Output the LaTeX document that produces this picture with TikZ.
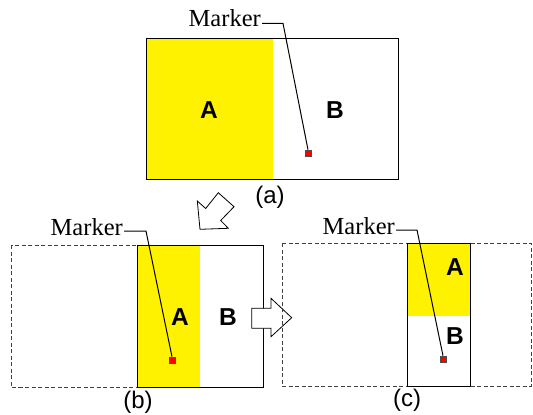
\documentclass[tikz,border=0pt]{standalone}
\usepackage{fontspec}
\setmainfont{Liberation Serif}
\setsansfont{Liberation Sans}
\begin{document}
\begin{tikzpicture}[x=1pt,y=-1pt,
  frame/.style={draw=black, line width=1pt},
  dframe/.style={draw=black!75, line width=1pt, dash pattern=on 4pt off 2.5pt},
  yfill/.style={fill=yellow},
  part/.style={font=\sffamily\bfseries\fontsize{24.5}{24.5}\selectfont, inner sep=0pt},
  captext/.style={font=\sffamily\fontsize{24}{24}\selectfont, inner sep=0pt},
  mlabel/.style={font=\fontsize{24.5}{24.5}\selectfont, inner sep=1pt},
  markbox/.style={draw=black!70, fill=red, line width=0.6pt, minimum size=6pt, inner sep=0pt, rectangle},
  lead/.style={draw=black, line width=1pt},
  blockarrow/.style={draw=black, fill=white, line width=0.8pt, line join=miter}
]
\useasboundingbox (0,0) rectangle (533,415);

% ---- (a)
\fill[yfill] (146,38) rectangle (273,179);
\draw[frame] (146,38) rectangle (398,179);
\node[part] (aA) at (209,110) {A};
\node[part] (aB) at (335,110) {B};
\node[captext] (capa) at (270,197) {(a)};
\node[markbox] (mqa) at (308,153) {};
\node[mlabel, anchor=base east] (mka) at (262,27) {Marker};
\coordinate (ka) at (283,23.3);
\draw[lead] (mka.east |- ka) -- (ka) -- (mqa.north);

% ---- arrow (a) -> (b)
\draw[blockarrow] (197.3,201) -- (205.7,208.5) -- (218.3,192.7) -- (234,206.7) -- (220.7,220.5) -- (228.3,228.3) -- (200,229.3) -- cycle;

% ---- (b)
\draw[dframe] (11,245) rectangle (263,387);
\fill[yfill] (137,245) rectangle (200,387);
\draw[frame] (137,245) rectangle (263,387);
\node[part] (bA) at (180,317) {A};
\node[part] (bB) at (228,317) {B};
\node[captext] (capb) at (138,402.5) {(b)};
\node[markbox] (mqb) at (172,360) {};
\node[mlabel, anchor=base east] (mkb) at (124,235) {Marker};
\coordinate (kb) at (146,231);
\draw[lead] (mkb.east |- kb) -- (kb) -- (mqb.north);

% ---- arrow (b) -> (c)
\draw[blockarrow] (251.7,308.3) -- (271,308.3) -- (271,298.3) -- (291.7,317.7) -- (271,336.7) -- (271,328.3) -- (251.7,328.3) -- cycle;

% ---- (c)
\draw[dframe] (282,243) rectangle (531,386);
\fill[yfill] (407,243) rectangle (470,316);
\draw[frame] (407,243) rectangle (470,386);
\node[part] (cA) at (455,267) {A};
\node[part] (cB) at (455,336) {B};
\node[captext] (capc) at (407,400) {(c)};
\node[markbox] (mqc) at (443,359) {};
\node[mlabel, anchor=base east] (mkc) at (396,234) {Marker};
\coordinate (kc) at (417,230);
\draw[lead] (mkc.east |- kc) -- (kc) -- (mqc.north);
\end{tikzpicture}
\end{document}
